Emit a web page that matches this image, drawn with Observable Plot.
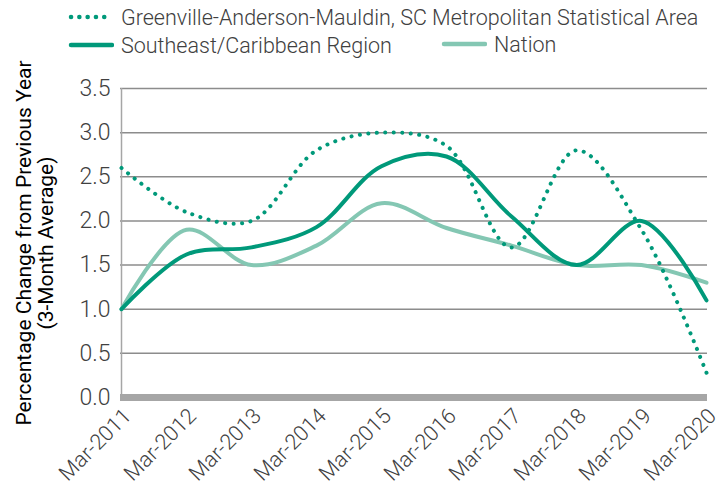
<!DOCTYPE html>
<html>
<head>
<meta charset="utf-8">
<script src="https://cdn.jsdelivr.net/npm/d3@7"></script>
<script src="https://cdn.jsdelivr.net/npm/@observablehq/plot@0.6"></script>
<style>
  html, body { margin: 0; padding: 0; background: #fff; }
  #wrap { position: relative; width: 727px; height: 498px; font-family: Roboto, "Liberation Sans", sans-serif; }
  #legend { position: absolute; left: 0; top: 0; width: 727px; height: 62px; font-weight: 300; font-size: 21.5px; color: #404040; }
  .item { position: absolute; display: flex; align-items: center; white-space: nowrap; }
  .item svg { margin-right: 7px; }
  #chart { position: absolute; left: 0; top: 0; }
</style>
</head>
<body>
<div id="wrap">
  <div id="chart"></div>
  <div id="legend"></div>
</div>
<script>
const dates = ["Mar-2011","Mar-2012","Mar-2013","Mar-2014","Mar-2015","Mar-2016","Mar-2017","Mar-2018","Mar-2019","Mar-2020"];
const greenville = [2.6, 2.1, 2.0, 2.8, 3.0, 2.85, 1.7, 2.8, 1.9, 0.28];
const southeast  = [1.0, 1.62, 1.7, 1.93, 2.62, 2.73, 2.05, 1.5, 2.0, 1.1];
const nation     = [1.0, 1.9, 1.5, 1.72, 2.2, 1.92, 1.72, 1.5, 1.5, 1.3];
const yTicks = [0, 0.5, 1.0, 1.5, 2.0, 2.5, 3.0, 3.5];
const seriesNames = ["Greenville-Anderson-Mauldin, SC Metropolitan Statistical Area", "Southeast/Caribbean Region", "Nation"];
const colors = { dark: "#00997a", light: "#84c7b3" };

const toRows = (vals) => dates.map((d, i) => ({date: d, value: vals[i]}));

const chart = Plot.plot({
  width: 727,
  height: 498,
  marginTop: 88,
  marginBottom: 101,
  marginLeft: 120,
  marginRight: 20,
  style: { fontFamily: "Roboto, 'Liberation Sans', sans-serif", background: "white" },
  x: { type: "point", domain: dates, padding: 0, label: null },
  y: { domain: [0, 3.5], label: null },
  marks: [
    Plot.ruleY(yTicks.filter(d => d > 0), { stroke: "#8c8c8c", strokeWidth: 1.5 }),
    Plot.ruleX([dates[0]], { stroke: "#a6a6a6", strokeWidth: 1.5 }),
    Plot.ruleY([0], { stroke: "#a6a6a6", strokeWidth: 7 }),
    Plot.axisX({ tickSize: 0, tickRotate: -45, tickPadding: 15, dx: 6, fontSize: 21.5, fontWeight: 300, fill: "#404040", label: null }),
    Plot.axisY({ ticks: yTicks, tickFormat: d => d.toFixed(1), tickSize: 0, tickPadding: 10, fontSize: 23, fontWeight: 300, fill: "#404040", label: null }),
    Plot.line(toRows(nation), { x: "date", y: "value", stroke: colors.light, strokeWidth: 4, curve: "catmull-rom" }),
    Plot.line(toRows(southeast), { x: "date", y: "value", stroke: colors.dark, strokeWidth: 4, curve: "catmull-rom" }),
    Plot.line(toRows(greenville), { x: "date", y: "value", stroke: colors.dark, strokeWidth: 4, strokeDasharray: "0.1 8.4", strokeLinecap: "round", curve: "catmull-rom" }),
    Plot.text(["Percentage Change from Previous Year\n(3-Month Average)"], {
      frameAnchor: "left", dx: -86, rotate: -90, fontSize: 21, fill: "#000", lineHeight: 1.05, textAnchor: "middle"
    })
  ]
});
document.getElementById("chart").appendChild(chart);

// legend
const legend = document.getElementById("legend");
const items = [
  { name: seriesNames[0], color: colors.dark, dashed: true, left: 66, top: 17 },
  { name: seriesNames[1], color: colors.dark, dashed: false, left: 66, top: 45 },
  { name: seriesNames[2], color: colors.light, dashed: false, left: 439, top: 44 }
];
items.forEach(it => {
  const div = document.createElement("div");
  div.className = "item";
  div.style.left = it.left + "px";
  div.style.top = (it.top - 14) + "px";
  div.style.height = "28px";
  const dash = it.dashed ? 'stroke-dasharray="0.1 8.2" stroke-linecap="round"' : 'stroke-linecap="round"';
  div.innerHTML = `<svg width="48" height="10"><line x1="5" x2="46" y1="5" y2="5" stroke="${it.color}" stroke-width="4.5" ${dash}/></svg><span>${it.name}</span>`;
  legend.appendChild(div);
});
</script>
</body>
</html>
